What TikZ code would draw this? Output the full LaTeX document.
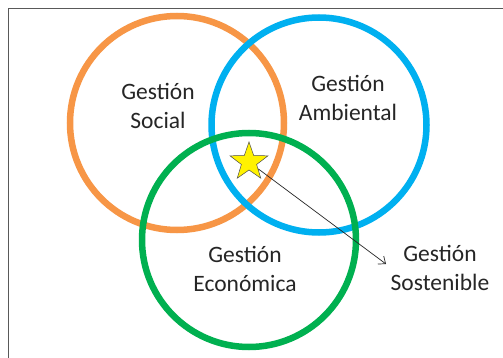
\documentclass[tikz,border=0pt]{standalone}
\usepackage{fontspec}
\setmainfont{Carlito}
\usetikzlibrary{shapes.geometric,arrows.meta}
\definecolor{corange}{HTML}{F79646}
\definecolor{cblue}{HTML}{00B0F0}
\definecolor{cgreen}{HTML}{00B050}
\definecolor{frame}{HTML}{595959}
\tikzset{
  ring/.style={line width=6.5pt},
  lbl/.style={align=center,font=\fontsize{23.5}{28.5}\selectfont,text=black!85,inner sep=0pt},
  starbox/.style={star,star points=5,star point ratio=2.5,minimum size=40pt,inner sep=0pt,fill=yellow,draw=black!70,line width=0.5pt},
  conn/.style={-{Straight Barb[length=6pt,width=10pt]},line width=0.7pt,black!85}
}
\begin{document}
\begin{tikzpicture}[x=1pt,y=-1pt]
\useasboundingbox (0,0) rectangle (503,358);
\fill[white] (0,0) rectangle (503,358);
\draw[frame,line width=0.9pt] (8,358) -- (8,8) -- (503,8);
\draw[ring,corange] (177,123) circle (107);
\draw[ring,cblue] (319,125) circle (107.5);
\draw[ring,cgreen] (249,240) circle (107);
\coordinate (tip) at (386,264);
\node[starbox] (st) at (249,162) {};
\draw[conn] (st) -- (tip);
\node[lbl] (soc) at (158,106) {Gestión\\Social};
\node[lbl] (amb) at (348,98) {Gestión\\Ambiental};
\node[lbl] (eco) at (245,269) {Gestión\\Económica};
\node[lbl] (sos) at (440,268) {Gestión\\Sostenible};
\end{tikzpicture}
\end{document}
